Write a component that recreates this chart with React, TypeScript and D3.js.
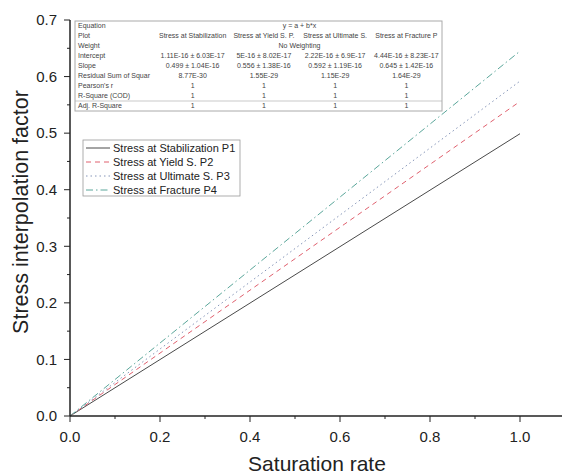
import React from "react";
import * as d3 from "d3";

const W = 563;
const H = 475;

// data
const seriesNames = [
  "Stress at Stabilization P1",
  "Stress at Yield S. P2",
  "Stress at Ultimate S. P3",
  "Stress at Fracture P4",
];
const saturation = [0, 1.0];
const p1 = [0, 0.499];
const p2 = [0, 0.556];
const p3 = [0, 0.592];
const p4 = [0, 0.645];
const seriesValues = [p1, p2, p3, p4];

const xTicks = [0, 0.2, 0.4, 0.6, 0.8, 1.0];
const xMinor = [0.1, 0.3, 0.5, 0.7, 0.9];
const yTicks = [0, 0.1, 0.2, 0.3, 0.4, 0.5, 0.6, 0.7];
const yMinor = [0.05, 0.15, 0.25, 0.35, 0.45, 0.55, 0.65];

// fit table
const tableLabels = [
  "Equation",
  "Plot",
  "Weight",
  "Intercept",
  "Slope",
  "Residual Sum of Squar",
  "Pearson's r",
  "R-Square (COD)",
  "Adj. R-Square",
];
const plotNames = [
  "Stress at Stabilization",
  "Stress at Yield S. P.",
  "Stress at Ultimate S.",
  "Stress at Fracture P",
];
const intercepts = [
  "1.11E-16 ± 6.03E-17",
  "5E-16 ± 8.02E-17",
  "2.22E-16 ± 6.9E-17",
  "4.44E-16 ± 8.23E-17",
];
const slopeText = [
  "0.499 ± 1.04E-16",
  "0.556 ± 1.38E-16",
  "0.592 ± 1.19E-16",
  "0.645 ± 1.42E-16",
];
const rss = ["8.77E-30", "1.55E-29", "1.15E-29", "1.64E-29"];
const pearson = ["1", "1", "1", "1"];
const rSquare = ["1", "1", "1", "1"];
const adjRSquare = ["1", "1", "1", "1"];
const equationText = "y = a + b*x";
const weightText = "No Weighting";

const colors = ["#4a4a4a", "#e0606e", "#8595b8", "#5aa69a"];
const dashes = ["none", "5,4", "1.5,3", "7,3,1.5,3"];

const FONT = "'Liberation Sans', Arial, sans-serif";

export default function App() {
  const x = d3.scaleLinear().domain([0, 1]).range([70, 520]);
  const y = d3.scaleLinear().domain([0, 0.7]).range([416, 20]);
  const line = d3
    .line<number>()
    .x((_, i) => x(saturation[i]))
    .y((d) => y(d));

  // table layout
  const tLeft = 75;
  const tRight = 442;
  const tTop = 21;
  const rowH = 10;
  const colBand = d3
    .scaleBand<number>()
    .domain([0, 1, 2, 3])
    .range([157, tRight]);
  const rowY = d3
    .scaleBand<number>()
    .domain(d3.range(tableLabels.length))
    .range([tTop, tTop + rowH * tableLabels.length]);
  const rowsData: (string[] | null)[] = [
    null,
    plotNames,
    null,
    intercepts,
    slopeText,
    rss,
    pearson,
    rSquare,
    adjRSquare,
  ];
  const tBottom = tTop + rowH * tableLabels.length;
  const spanCenter = (157 + tRight) / 2;

  // legend layout
  const lgLeft = 83;
  const lgTop = 140;
  const lgRowH = 14;
  const lgY = (i: number) => lgTop + 8 + i * lgRowH;

  return (
    <svg
      width={W}
      height={H}
      style={{ position: "absolute", left: 0, top: 0, background: "#fff" }}
      fontFamily={FONT}
    >
      <rect x={0} y={0} width={W} height={H} fill="#fff" />
      <defs>
        <clipPath id="tclip">
          <rect x={tLeft} y={tTop} width={tRight - tLeft} height={tBottom - tTop} />
        </clipPath>
      </defs>

      {/* series lines */}
      {seriesValues.map((vals, i) => (
        <path
          key={i}
          d={line(vals) || ""}
          fill="none"
          stroke={colors[i]}
          strokeWidth={1}
          strokeDasharray={dashes[i]}
        />
      ))}

      {/* fit table */}
      <g clipPath="url(#tclip)" fontSize={7} fill="#444">
        <rect
          x={tLeft}
          y={tTop}
          width={tRight - tLeft}
          height={tBottom - tTop}
          fill="#fff"
          stroke="none"
        />
        {tableLabels.map((lab, r) => (
          <text
            key={lab}
            x={tLeft + 3}
            y={(rowY(r) as number) + rowH / 2}
            dy="0.35em"
          >
            {lab}
          </text>
        ))}
        <text x={spanCenter} y={(rowY(0) as number) + rowH / 2} dy="0.35em" textAnchor="middle">
          {equationText}
        </text>
        <text x={spanCenter} y={(rowY(2) as number) + rowH / 2} dy="0.35em" textAnchor="middle">
          {weightText}
        </text>
        {rowsData.map((vals, r) =>
          vals
            ? vals.map((v, c) => (
                <text
                  key={r + "-" + c}
                  x={(colBand(c) as number) + colBand.bandwidth() / 2}
                  y={(rowY(r) as number) + rowH / 2}
                  dy="0.35em"
                  textAnchor="middle"
                >
                  {v}
                </text>
              ))
            : null
        )}
        <line
          x1={tLeft}
          x2={tRight}
          y1={rowY(8) as number}
          y2={rowY(8) as number}
          stroke="#bbb"
          strokeWidth={0.8}
        />
      </g>
      <rect
        x={tLeft}
        y={tTop}
        width={tRight - tLeft}
        height={tBottom - tTop}
        fill="none"
        stroke="#aaa"
        strokeWidth={1}
      />

      {/* legend */}
      <rect
        x={lgLeft}
        y={lgTop}
        width={157}
        height={56}
        fill="#fff"
        stroke="#999"
        strokeWidth={0.8}
      />
      {seriesNames.map((name, i) => (
        <g key={name}>
          <line
            x1={lgLeft + 3}
            x2={lgLeft + 27}
            y1={lgY(i)}
            y2={lgY(i)}
            stroke={colors[i]}
            strokeWidth={1}
            strokeDasharray={dashes[i]}
          />
          <text x={lgLeft + 30} y={lgY(i)} dy="0.35em" fontSize={11} fill="#222">
            {name}
          </text>
        </g>
      ))}

      {/* axes */}
      <line x1={70} x2={562} y1={416} y2={416} stroke="#222" strokeWidth={1.5} />
      <line x1={70} x2={70} y1={20} y2={416} stroke="#222" strokeWidth={1.5} />
      {xTicks.map((t) => (
        <g key={"xt" + t}>
          <line x1={x(t)} x2={x(t)} y1={416} y2={422} stroke="#222" strokeWidth={1} />
          <text x={x(t)} y={437} dy="0.35em" textAnchor="middle" fontSize={15} fill="#222">
            {d3.format(".1f")(t)}
          </text>
        </g>
      ))}
      {xMinor.map((t) => (
        <line key={"xm" + t} x1={x(t)} x2={x(t)} y1={416} y2={419} stroke="#222" strokeWidth={1} />
      ))}
      {yTicks.map((t) => (
        <g key={"yt" + t}>
          <line x1={64} x2={70} y1={y(t)} y2={y(t)} stroke="#222" strokeWidth={1} />
          <text x={57} y={y(t)} dy="0.35em" textAnchor="end" fontSize={15} fill="#222">
            {d3.format(".1f")(t)}
          </text>
        </g>
      ))}
      {yMinor.map((t) => (
        <line key={"ym" + t} x1={67} x2={70} y1={y(t)} y2={y(t)} stroke="#222" strokeWidth={1} />
      ))}

      <text x={317} y={464} dy="0.35em" textAnchor="middle" fontSize={21} fill="#222">
        Saturation rate
      </text>
      <text
        transform={`translate(20,212) rotate(-90)`}
        dy="0.35em"
        textAnchor="middle"
        fontSize={21.5}
        fill="#222"
      >
        Stress interpolation factor
      </text>
    </svg>
  );
}
